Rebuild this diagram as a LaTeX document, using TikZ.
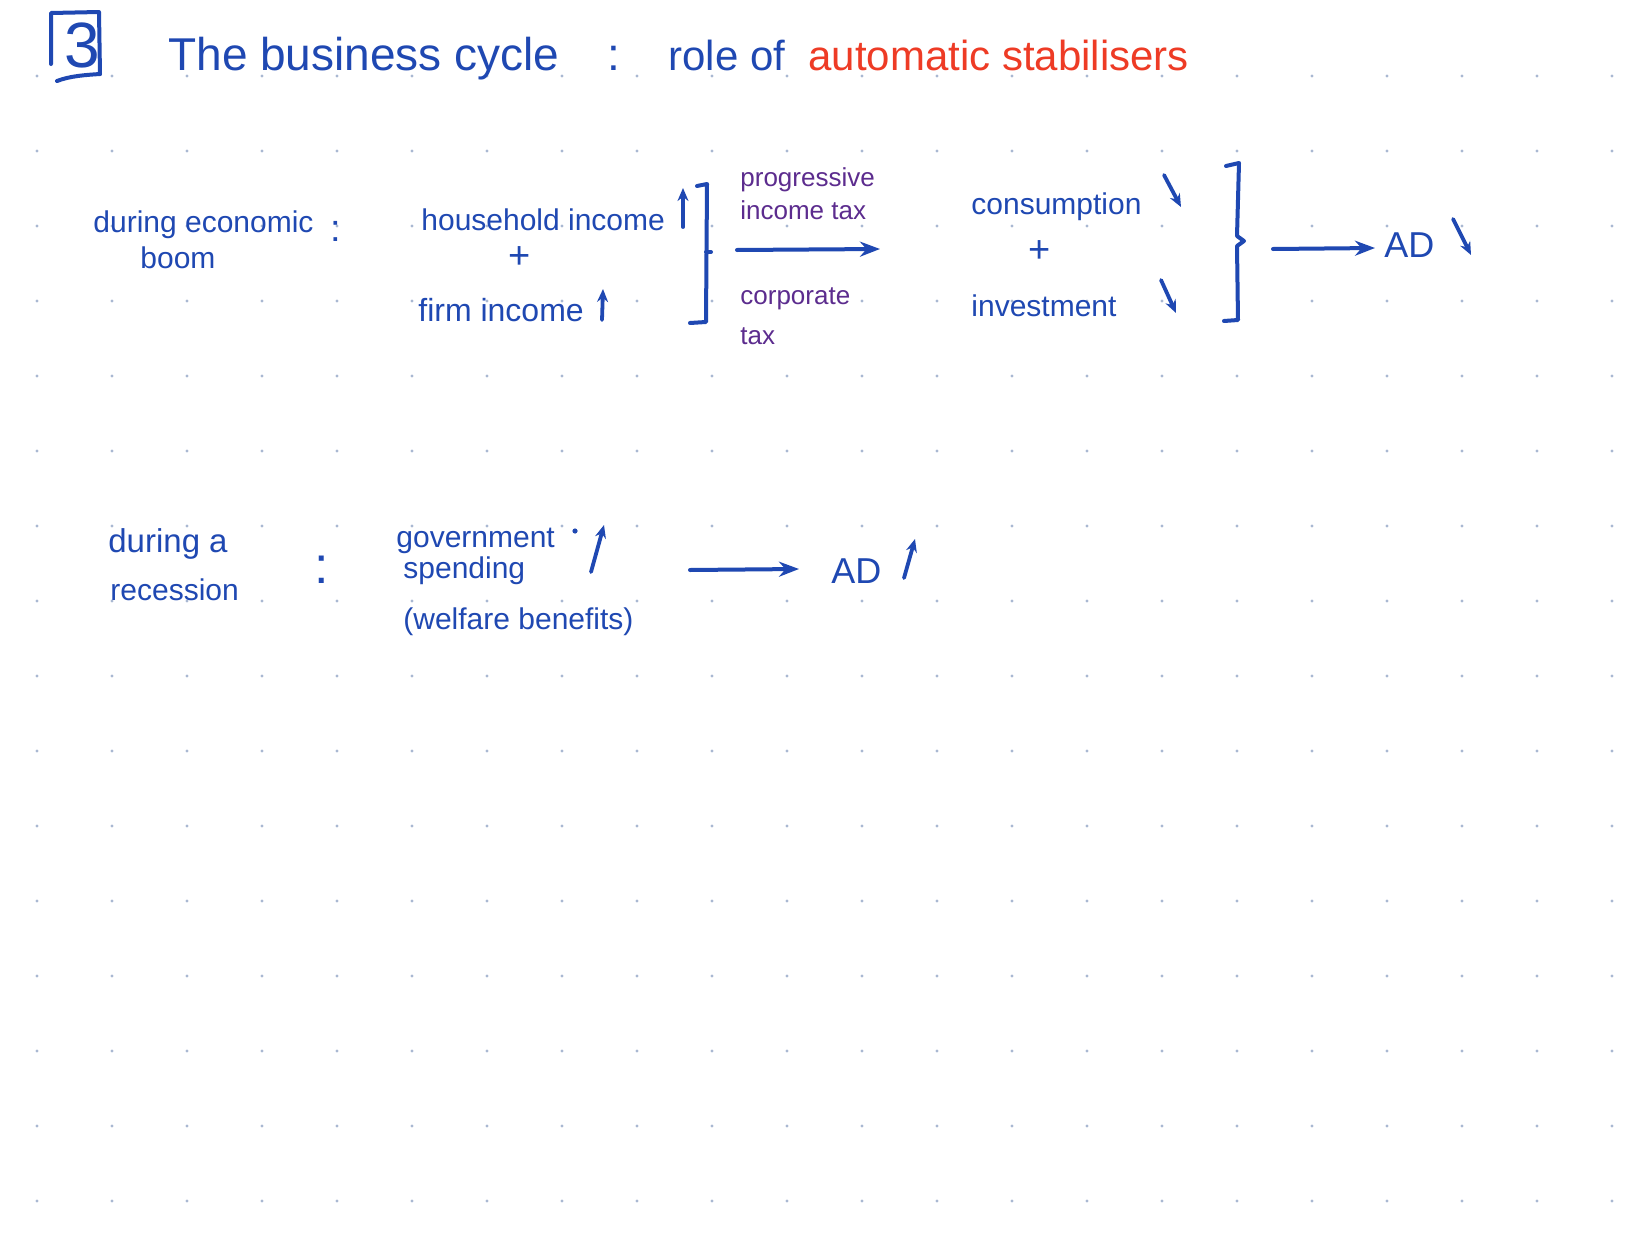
\documentclass[tikz,border=0pt]{standalone}
\usepackage{fontspec}
\setmainfont{Liberation Sans}
\usetikzlibrary{arrows.meta}
\definecolor{penblue}{HTML}{1F48B2}
\definecolor{penred}{HTML}{EE3B25}
\definecolor{penpurple}{HTML}{5C2C8E}
\definecolor{griddot}{HTML}{A9B8D2}
\tikzset{
  pen/.style={draw=penblue, line width=2pt, line cap=round, line join=round},
  bigarrow/.style={pen, -{Stealth[length=10pt,width=7.5pt]}},
  smallarrow/.style={pen, line width=1.9pt, -{Stealth[length=6.5pt,width=5.5pt]}},
  txt/.style={inner sep=0pt, anchor=base west, text=penblue, font=\fontsize{15}{18}\selectfont},
  ptxt/.style={txt, text=penpurple, font=\fontsize{13}{15}\selectfont},
  ttl/.style={txt, font=\fontsize{23}{26}\selectfont},
  adtxt/.style={txt, font=\fontsize{18}{20}\selectfont},
  plustxt/.style={txt, anchor=center, font=\fontsize{19}{20}\selectfont},
}
\begin{document}
\begin{tikzpicture}[x=0.5pt,y=-0.5pt]
\useasboundingbox (0,0) rectangle (1650,1258);
\fill[white] (0,0) rectangle (1650,1258);
% dot grid
\foreach \i in {0,...,21}{\foreach \j in {0,...,15}{\fill[griddot] (37+75*\i,76+75*\j) circle (0.85pt);}}

% title
\node[ttl, font=\fontsize{32}{34}\selectfont] (num) at (64,67) {3};
\draw[pen] (51,64) -- (51,13) -- (99,12) -- (100,74);
\draw[pen] (57,81) .. controls (70,76) and (85,75) .. (100,74);
\node[ttl] (tA) at (168,70) {The business cycle};
\node[ttl] (tcolon) at (607,70) {:};
\node[ttl, font=\fontsize{21}{24}\selectfont] (tB) at (668,70) {role of};
\node[ttl, text=penred, font=\fontsize{21}{24}\selectfont] (tC) at (808,70) {automatic stabilisers};

% row 1: boom
\node[txt] (boom1) at (93,232) {during economic};
\node[txt] (boom2) at (140,268) {boom};
\node[txt, font=\fontsize{19}{20}\selectfont] (col1) at (330,241) {:};
\node[txt] (hh) at (421,230) {household income};
\coordinate (hhA) at (683,227); \coordinate (hhB) at (683,188);
\draw[smallarrow] (hhA) -- (hhB);
\node[plustxt] (plus1) at (520,258) {+};
\node[txt, font=\fontsize{16}{18}\selectfont] (firm) at (418,321) {firm income};
\coordinate (fiA) at (602,320); \coordinate (fiB) at (603,289);
\draw[smallarrow] (fiA) -- (fiB);
% left bracket
\coordinate (lbr) at (706,252);
\draw[pen] (697,186) -- (707,184) -- (706,322) -- (690,323);
\draw[pen] (706,252) -- (711,252);
% purple labels
\node[ptxt] (pr1) at (740,186) {progressive};
\node[ptxt] (pr2) at (740,219) {income tax};
\node[ptxt] (co1) at (740,304) {corporate};
\node[ptxt] (co2) at (740,344) {tax};
\coordinate (a1s) at (737,250); \coordinate (a1e) at (880,249);
\draw[bigarrow] (a1s) -- (a1e);
% right block
\node[txt] (cons) at (971,214) {consumption};
\coordinate (coA) at (1164,175); \coordinate (coB) at (1181,207);
\draw[smallarrow] (coA) -- (coB);
\node[plustxt] (plus2) at (1040,252) {+};
\node[txt] (inv) at (971,316) {investment};
\coordinate (inA) at (1161,280); \coordinate (inB) at (1176,313);
\draw[smallarrow] (inA) -- (inB);
% brace
\draw[pen] (1226,166) -- (1239,163) -- (1237,236) -- (1244,241) -- (1237,246) -- (1238,320) -- (1224,321);
\coordinate (a2s) at (1273,249); \coordinate (a2e) at (1375,248);
\draw[bigarrow] (a2s) -- (a2e);
\node[adtxt] (ad1) at (1384,257) {AD};
\coordinate (adA) at (1453,219); \coordinate (adB) at (1471,255);
\draw[smallarrow] (adA) -- (adB);

% row 2: recession
\node[txt, font=\fontsize{16.5}{18}\selectfont] (rec1) at (108,552) {during a};
\node[txt] (rec2) at (110,600) {recession};
\node[txt, font=\fontsize{26}{28}\selectfont] (col2) at (314,583) {:};
\node[txt] (gov) at (396,547) {government};
\fill[penblue] (575,531) circle (1.3pt);
\coordinate (gvA) at (591,572); \coordinate (gvB) at (604,525);
\draw[smallarrow] (gvA) -- (gvB);
\node[txt] (spd) at (403,578) {spending};
\node[txt] (wel) at (403,629) {(welfare benefits)};
\coordinate (a3s) at (690,570); \coordinate (a3e) at (799,569);
\draw[bigarrow] (a3s) -- (a3e);
\node[adtxt] (ad2) at (831,583) {AD};
\coordinate (ad2A) at (904,578); \coordinate (ad2B) at (915,539);
\draw[smallarrow] (ad2A) -- (ad2B);
\end{tikzpicture}
\end{document}
